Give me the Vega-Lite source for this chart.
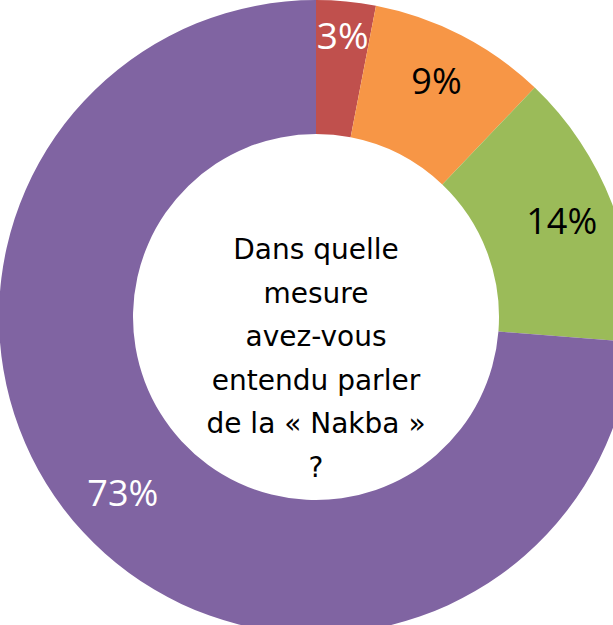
{
  "$schema": "https://vega.github.io/schema/vega-lite/v6.json",
  "width": 632,
  "height": 634,
  "autosize": {"type": "none"},
  "padding": 0,
  "background": "white",
  "view": {"stroke": null},
  "layer": [
    {
      "data": {"values": [
        {"cat": "Beaucoup", "pct": 0.03, "ord": 1},
        {"cat": "Assez", "pct": 0.09, "ord": 2},
        {"cat": "Peu", "pct": 0.14, "ord": 3},
        {"cat": "Pas du tout", "pct": 0.73, "ord": 4}
      ]},
      "encoding": {
        "theta": {"field": "pct", "type": "quantitative", "stack": true},
        "order": {"field": "ord", "type": "quantitative"}
      },
      "layer": [
        {
          "mark": {"type": "arc", "innerRadius": 183, "outerRadius": 317},
          "encoding": {
            "color": {
              "field": "cat", "type": "nominal",
              "scale": {"domain": ["Beaucoup", "Assez", "Peu", "Pas du tout"], "range": ["#C0504D", "#F79646", "#9BBB59", "#8064A2"]},
              "legend": null
            }
          }
        },
        {
          "mark": {"type": "text", "radius": 280, "font": "Open Sans", "fontSize": 37, "align": "center", "baseline": "middle", "color": "white"},
          "encoding": {
            "text": {"condition": {"test": "datum.cat === 'Beaucoup'", "field": "pct", "type": "quantitative", "format": ".0%"}, "value": ""}
          }
        },
        {
          "mark": {"type": "text", "radius": 263, "font": "Open Sans", "fontSize": 36, "align": "center", "baseline": "middle"},
          "encoding": {
            "text": {"condition": {"test": "datum.cat !== 'Beaucoup'", "field": "pct", "type": "quantitative", "format": ".0%"}, "value": ""},
            "color": {"condition": {"test": "datum.cat === 'Assez' || datum.cat === 'Peu'", "value": "black"}, "value": "white"}
          }
        }
      ]
    },
    {
      "data": {"values": [{"q": "Dans quelle\nmesure\navez-vous\nentendu parler\nde la « Nakba »\n?"}]},
      "mark": {"type": "text", "font": "DejaVu Sans", "fontSize": 28, "lineHeight": 43.5, "lineBreak": "\n", "align": "center", "baseline": "middle", "dy": -66, "color": "black"},
      "encoding": {"text": {"field": "q", "type": "nominal"}}
    }
  ]
}
